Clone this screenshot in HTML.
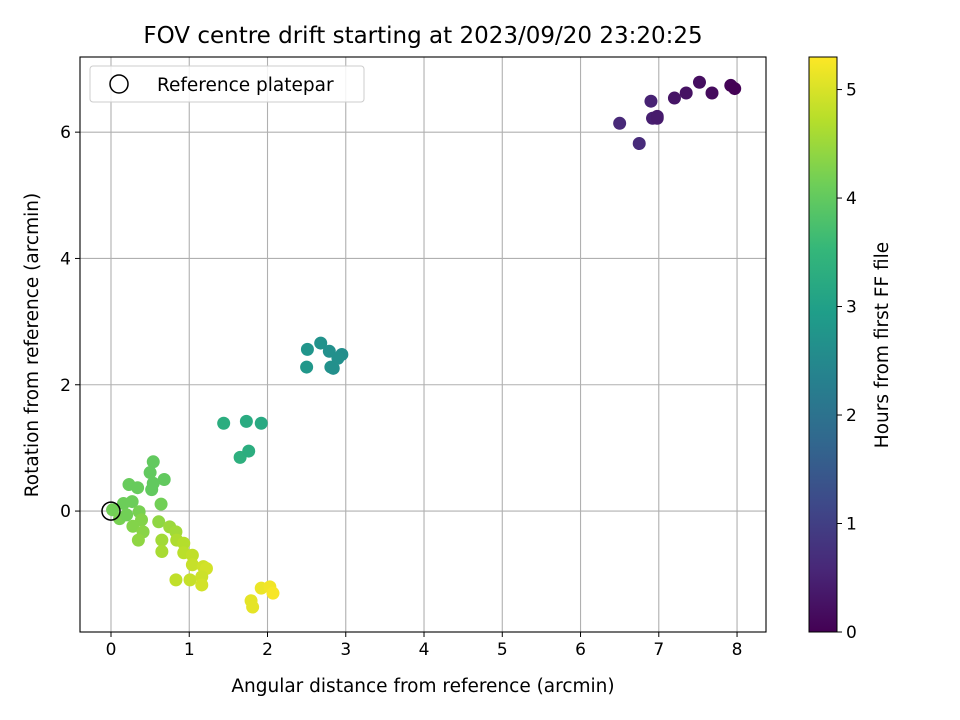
<!DOCTYPE html>
<html><head><meta charset="utf-8"><style>
body{margin:0;background:#fff;font-family:"Liberation Sans","DejaVu Sans",sans-serif}
svg text{font-family:"DejaVu Sans","Liberation Sans",sans-serif}
</style></head><body>
<svg id="c" style="position:absolute;left:0;top:0" width="960" height="720" viewBox="0 0 960 720" xmlns="http://www.w3.org/2000/svg">
<defs><linearGradient id="vg" x1="0" y1="1" x2="0" y2="0">
<stop offset="0" stop-color="#440154"/><stop offset="0.111" stop-color="#482878"/><stop offset="0.222" stop-color="#3e4989"/><stop offset="0.333" stop-color="#31688e"/><stop offset="0.444" stop-color="#26828e"/><stop offset="0.556" stop-color="#1f9e89"/><stop offset="0.667" stop-color="#35b779"/><stop offset="0.778" stop-color="#6ece58"/><stop offset="0.889" stop-color="#b5de2b"/><stop offset="1" stop-color="#fde725"/></linearGradient></defs>
<rect width="960" height="720" fill="#fff"/>
<g id="grid"></g><g id="pts"></g><g id="axes"></g>
</svg>
<script>
const xs=[6.50,6.75,6.90,6.92,6.98,6.98,7.20,7.35,7.52,7.68,7.92,7.97,
2.51,2.68,2.79,2.95,2.50,2.81,2.84,2.90,
1.44,1.73,1.92,1.65,1.76,
0.54,0.50,0.68,0.23,0.34,0.52,0.54,0.16,0.27,0.64,0.02,0.11,0.36,0.39,0.28,0.41,0.35,0.61,0.75,0.83,0.65,0.65,0.84,0.93,0.93,1.04,1.04,1.18,1.22,0.83,1.01,1.16,1.16,0.20,
1.92,2.03,2.07,1.79,1.81];
const ys=[6.14,5.82,6.49,6.22,6.25,6.22,6.54,6.62,6.79,6.62,6.74,6.69,
2.56,2.66,2.53,2.48,2.28,2.28,2.26,2.42,
1.39,1.42,1.39,0.85,0.95,
0.78,0.61,0.50,0.42,0.37,0.34,0.44,0.12,0.15,0.11,0.02,-0.12,-0.01,-0.14,-0.24,-0.33,-0.46,-0.17,-0.25,-0.33,-0.46,-0.64,-0.46,-0.51,-0.66,-0.70,-0.85,-0.88,-0.91,-1.09,-1.09,-1.04,-1.17,-0.06,
-1.22,-1.20,-1.30,-1.42,-1.52];
const hours=[0.6,0.65,0.5,0.45,0.4,0.4,0.3,0.25,0.2,0.15,0.05,0.02,
2.75,2.7,2.65,2.6,2.8,2.7,2.65,2.65,
3.3,3.25,3.2,3.35,3.3,
4.0,4.0,4.0,4.05,4.05,4.0,4.0,4.1,4.1,4.15,4.15,4.2,4.2,4.3,4.3,4.35,4.4,4.4,4.5,4.55,4.55,4.6,4.65,4.7,4.75,4.8,4.85,4.9,4.95,4.8,4.85,4.9,4.95,4.15,
5.15,5.2,5.25,5.1,5.1];
const xTicks=[0,1,2,3,4,5,6,7,8];
const yTicks=[0,2,4,6];
const cTicks=[0,1,2,3,4,5];
const X0=80,X1=766,Y0=57,Y1=632,xmin=-0.396,xmax=8.37,ymin=-1.915,ymax=7.19,cmax=5.30;
const sx=v=>X0+(v-xmin)/(xmax-xmin)*(X1-X0);
const sy=v=>Y1-(v-ymin)/(ymax-ymin)*(Y1-Y0);
const vir=[[68,1,84],[72,40,120],[62,73,137],[49,104,142],[38,130,142],[31,158,137],[53,183,121],[110,206,88],[181,222,43],[253,231,37]];
function col(t){let f=Math.max(0,Math.min(1,t/cmax))*(vir.length-1);let i=Math.min(Math.floor(f),vir.length-2),r=f-i;const a=vir[i],b=vir[i+1];return `rgb(${a.map((v,k)=>Math.round(v+(b[k]-v)*r)).join(',')})`;}
const NS='http://www.w3.org/2000/svg';
function mk(tag,at,par,txt){const e=document.createElementNS(NS,tag);for(const k in at)e.setAttribute(k,at[k]);if(txt!==undefined)e.textContent=txt;document.getElementById(par).appendChild(e);return e;}
xTicks.forEach(t=>{const l=mk('line',{x1:sx(t),x2:sx(t),y1:Y0,y2:Y1,stroke:'#b0b0b0','stroke-width':1.1},'grid');

});
yTicks.forEach(t=>{const l=mk('line',{x1:X0,x2:X1,y1:sy(t),y2:sy(t),stroke:'#b0b0b0','stroke-width':1.1},'grid');

});
xs.forEach((x,i)=>{const c=mk('circle',{cx:sx(x),cy:sy(ys[i]),r:6.5,fill:col(hours[i])},'pts');

});
const ref=mk('circle',{cx:sx(0),cy:sy(0),r:9,fill:'none',stroke:'#000','stroke-width':1.5},'pts');


const fr=mk('rect',{x:X0,y:Y0,width:X1-X0,height:Y1-Y0,fill:'none',stroke:'#000','stroke-width':1.1},'axes');


xTicks.forEach(t=>{mk('line',{x1:sx(t),x2:sx(t),y1:Y1,y2:Y1+5,stroke:'#000'},'axes');
const tx=mk('text',{x:sx(t),y:Y1+23,'font-size':17,'text-anchor':'middle'},'axes',String(t));

});
yTicks.forEach(t=>{mk('line',{x1:X0-5,x2:X0,y1:sy(t),y2:sy(t),stroke:'#000'},'axes');
const tx=mk('text',{x:X0-9,y:sy(t)+6,'font-size':17,'text-anchor':'end'},'axes',String(t));

});
const CX0=809,CX1=837;
const cb=mk('rect',{x:CX0,y:Y0,width:CX1-CX0,height:Y1-Y0,fill:'url(#vg)',stroke:'#000','stroke-width':1},'axes');


cTicks.forEach(t=>{const y=Y1-t/cmax*(Y1-Y0);mk('line',{x1:CX1,x2:CX1+5,y1:y,y2:y,stroke:'#000'},'axes');
const tx=mk('text',{x:CX1+9,y:y+6,'font-size':17},'axes',String(t));

});
</script>
<svg style="position:absolute;left:0;top:0" width="960" height="720">
<text x="423" y="43" font-size="23" text-anchor="middle" style="font-family:'DejaVu Sans','Liberation Sans',sans-serif">FOV centre drift starting at 2023/09/20 23:20:25</text>
<text x="423" y="692" font-size="18.5" text-anchor="middle" style="font-family:'DejaVu Sans','Liberation Sans',sans-serif">Angular distance from reference (arcmin)</text>
<text transform="translate(38,345) rotate(-90)" font-size="18.5" text-anchor="middle" style="font-family:'DejaVu Sans','Liberation Sans',sans-serif">Rotation from reference (arcmin)</text>
<text transform="translate(888,345) rotate(-90)" font-size="18.5" text-anchor="middle" style="font-family:'DejaVu Sans','Liberation Sans',sans-serif">Hours from first FF file</text>
<g>
<rect x="90" y="66" width="274" height="36" rx="3" fill="#fff" fill-opacity="0.85" stroke="#ccc"/>
<circle cx="119" cy="84" r="9" fill="none" stroke="#000" stroke-width="1.5"/>
<text x="157" y="91" font-size="18.5" style="font-family:'DejaVu Sans','Liberation Sans',sans-serif">Reference platepar</text>
</g>
</svg>
</body></html>
